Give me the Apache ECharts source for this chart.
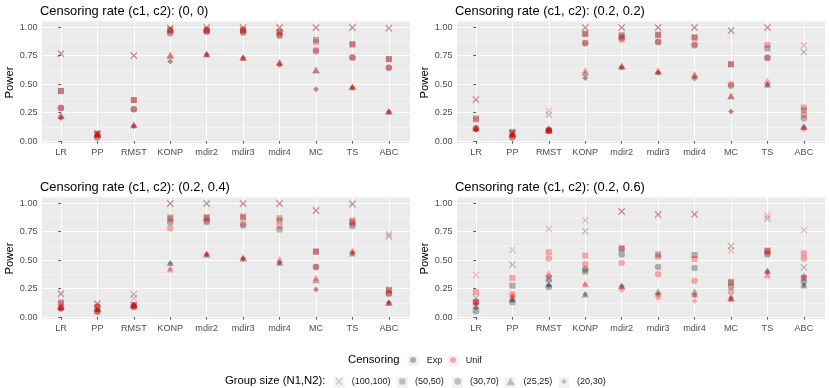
<!DOCTYPE html>
<html>
<head>
<meta charset="utf-8">
<script src="https://cdn.jsdelivr.net/npm/echarts@6/dist/echarts.min.js"></script>
<style>
html, body { margin: 0; background: #fff; }
#chart { width: 830px; height: 388px; }
</style>
</head>
<body>
<div id="chart"></div>
<script>
const methods = ['LR', 'PP', 'RMST', 'KONP', 'mdir2', 'mdir3', 'mdir4', 'MC', 'TS', 'ABC'];
const groupSizes = ['(100,100)', '(50,50)', '(30,70)', '(25,25)', '(20,30)'];
const censorings = ['Exp', 'Unif'];
const panelTitles = [
    'Censoring rate (c1, c2): (0, 0)',
    'Censoring rate (c1, c2): (0.2, 0.2)',
    'Censoring rate (c1, c2): (0.2, 0.4)',
    'Censoring rate (c1, c2): (0.2, 0.6)'
];
const yTicks = [0, 0.25, 0.5, 0.75, 1];
const yMinorTicks = [0.125, 0.375, 0.625, 0.875];

// power per method (rows), columns follow groupSizes
const exp00 = [
    [0.77, 0.44, 0.29, 0.22, 0.20],
    [0.06, 0.06, 0.03, 0.06, 0.05],
    [0.75, 0.36, 0.28, 0.14, 0.13],
    [0.99, 0.975, 0.945, 0.75, 0.70],
    [0.995, 0.975, 0.96, 0.765, 0.76],
    [0.995, 0.975, 0.955, 0.735, 0.73],
    [0.995, 0.96, 0.925, 0.69, 0.67],
    [0.995, 0.89, 0.79, 0.625, 0.46],
    [0.995, 0.85, 0.735, 0.48, 0.47],
    [0.99, 0.72, 0.645, 0.26, 0.255]
];
const unif00 = [
    [0.765, 0.44, 0.29, 0.23, 0.205],
    [0.07, 0.065, 0.04, 0.07, 0.05],
    [0.755, 0.36, 0.28, 0.145, 0.13],
    [0.995, 0.98, 0.96, 0.76, 0.70],
    [1.0, 0.98, 0.965, 0.765, 0.76],
    [1.0, 0.98, 0.96, 0.735, 0.73],
    [1.0, 0.955, 0.935, 0.695, 0.665],
    [1.0, 0.87, 0.80, 0.625, 0.45],
    [1.0, 0.85, 0.735, 0.475, 0.465],
    [0.995, 0.72, 0.645, 0.265, 0.255]
];
const exp22 = [
    [0.36, 0.19, 0.11, 0.115, 0.095],
    [0.07, 0.075, 0.03, 0.06, 0.05],
    [0.23, 0.095, 0.09, 0.115, 0.09],
    [0.995, 0.94, 0.86, 0.60, 0.555],
    [0.995, 0.93, 0.905, 0.655, 0.645],
    [0.995, 0.935, 0.87, 0.61, 0.60],
    [0.995, 0.91, 0.84, 0.575, 0.545],
    [0.97, 0.675, 0.485, 0.395, 0.26],
    [0.995, 0.815, 0.73, 0.50, 0.49],
    [0.78, 0.27, 0.20, 0.13, 0.12]
];
const unif22 = [
    [0.37, 0.20, 0.11, 0.12, 0.10],
    [0.065, 0.08, 0.04, 0.065, 0.05],
    [0.265, 0.09, 0.09, 0.10, 0.09],
    [1.0, 0.945, 0.865, 0.62, 0.555],
    [1.0, 0.92, 0.89, 0.665, 0.65],
    [1.0, 0.93, 0.87, 0.62, 0.60],
    [1.0, 0.91, 0.85, 0.59, 0.56],
    [0.975, 0.675, 0.50, 0.395, 0.26],
    [1.0, 0.845, 0.735, 0.53, 0.50],
    [0.84, 0.295, 0.23, 0.125, 0.10]
];
const exp24 = [
    [0.20, 0.12, 0.075, 0.09, 0.07],
    [0.115, 0.09, 0.045, 0.07, 0.06],
    [0.20, 0.105, 0.09, 0.105, 0.10],
    [0.995, 0.875, 0.83, 0.478, 0.47],
    [0.995, 0.87, 0.835, 0.55, 0.55],
    [0.995, 0.875, 0.805, 0.515, 0.515],
    [0.995, 0.85, 0.77, 0.48, 0.475],
    [0.935, 0.575, 0.44, 0.325, 0.245],
    [0.99, 0.835, 0.80, 0.56, 0.56],
    [0.71, 0.235, 0.205, 0.13, 0.125]
];
const unif24 = [
    [0.21, 0.13, 0.08, 0.09, 0.075],
    [0.12, 0.09, 0.05, 0.075, 0.065],
    [0.165, 0.105, 0.085, 0.11, 0.095],
    [1.0, 0.86, 0.78, 0.42, 0.42],
    [1.0, 0.88, 0.85, 0.56, 0.55],
    [1.0, 0.885, 0.82, 0.525, 0.51],
    [1.0, 0.87, 0.80, 0.51, 0.48],
    [0.94, 0.575, 0.44, 0.345, 0.24],
    [1.0, 0.85, 0.82, 0.585, 0.57],
    [0.73, 0.24, 0.21, 0.125, 0.125]
];
const exp26 = [
    [0.17, 0.13, 0.05, 0.10, 0.08],
    [0.46, 0.275, 0.13, 0.16, 0.15],
    [0.34, 0.33, 0.265, 0.29, 0.28],
    [0.755, 0.40, 0.42, 0.20, 0.20],
    [0.93, 0.60, 0.55, 0.275, 0.27],
    [0.905, 0.55, 0.44, 0.225, 0.20],
    [0.905, 0.545, 0.43, 0.225, 0.19],
    [0.625, 0.31, 0.265, 0.17, 0.17],
    [0.865, 0.58, 0.55, 0.41, 0.40],
    [0.435, 0.345, 0.31, 0.28, 0.28]
];
const unif26 = [
    [0.37, 0.22, 0.13, 0.14, 0.12],
    [0.59, 0.345, 0.20, 0.19, 0.18],
    [0.775, 0.57, 0.515, 0.385, 0.36],
    [0.85, 0.54, 0.465, 0.29, 0.285],
    [0.925, 0.605, 0.475, 0.27, 0.235],
    [0.895, 0.53, 0.375, 0.205, 0.165],
    [0.90, 0.51, 0.32, 0.20, 0.14],
    [0.585, 0.30, 0.22, 0.16, 0.155],
    [0.89, 0.585, 0.565, 0.37, 0.385],
    [0.765, 0.56, 0.515, 0.37, 0.35]
];
const panelData = [[exp00, unif00], [exp22, unif22], [exp24, unif24], [exp26, unif26]];

const font = 'Liberation Sans';
const censColors = ['rgba(40,40,40,0.42)', 'rgba(255,0,0,0.38)'];
const keyGray = 'rgba(40,40,40,0.33)';
const crossPath = 'path://M0,0.1L0.1,0L0.5,0.4L0.9,0L1,0.1L0.6,0.5L1,0.9L0.9,1L0.5,0.6L0.1,1L0,0.9L0.4,0.5Z';
const shapes = [
    { symbol: crossPath, size: 7 },
    { symbol: 'path://M0,0H1V1H0Z', size: 6 },
    { symbol: 'circle', size: 6.5 },
    { symbol: 'path://M0.5,0L1,0.866L0,0.866Z', size: 7.5 },
    { symbol: 'path://M0.5,0L1,0.5L0.5,1L0,0.5Z', size: 5.5 }
];

// panel layout
const panelLeft = [42, 457, 42, 457];
const panelTop = [21.6, 21.6, 197.6, 197.6];
const panelW = 368, panelH = 121.7;

const chart = echarts.init(document.getElementById('chart'));

const grid = [], xAxis = [], yAxis = [], series = [], title = [];
const xIdx = methods.map((m, i) => i);

for (let p = 0; p < 4; p++) {
    grid.push({
        left: panelLeft[p], top: panelTop[p], width: panelW, height: panelH,
        show: true, backgroundColor: '#ebebeb', borderWidth: 0
    });
    title.push({
        text: panelTitles[p], left: panelLeft[p] - 2, top: panelTop[p] - 16.3, padding: 0,
        textStyle: { fontFamily: font, fontSize: 12.9, fontWeight: 'normal', color: '#000' }
    });
    xAxis.push({
        type: 'value', gridIndex: p, min: -0.52, max: 9.58,
        axisLine: { show: false },
        axisTick: { customValues: xIdx, length: 2.7, lineStyle: { color: '#333', width: 0.8 } },
        axisLabel: {
            customValues: xIdx, margin: 5, color: '#4d4d4d', fontSize: 9.1, fontFamily: font,
            formatter: v => methods[Math.round(v)]
        },
        splitLine: { show: true, lineStyle: { color: '#fff', width: 1.1 } }
    });
    yAxis.push({
        type: 'value', gridIndex: p, min: -0.02, max: 1.05,
        name: 'Power', nameLocation: 'middle', nameGap: 27,
        nameTextStyle: { fontFamily: font, fontSize: 11.3, color: '#000' },
        axisLine: { show: false },
        axisTick: { customValues: yTicks, length: 2.7, lineStyle: { color: '#333', width: 0.8 } },
        axisLabel: {
            customValues: yTicks, margin: 4.5, color: '#4d4d4d', fontSize: 9.1, fontFamily: font,
            formatter: v => v.toFixed(2)
        },
        splitLine: { show: true, lineStyle: { color: '#fff', width: 1.1 } }
    });
}
// minor horizontal grid lines
for (let p = 0; p < 4; p++) {
    yAxis.push({
        type: 'value', gridIndex: p, min: -0.02, max: 1.05, position: 'left',
        axisLine: { show: false },
        axisTick: { show: false, customValues: yMinorTicks },
        axisLabel: { show: false, customValues: yMinorTicks },
        splitLine: { show: true, lineStyle: { color: 'rgba(255,255,255,0.6)', width: 0.7 } }
    });
}

for (let p = 0; p < 4; p++) {
    for (let c = 0; c < 2; c++) {
        const rows = panelData[p][c];
        for (let k = 0; k < groupSizes.length; k++) {
            series.push({
                type: 'scatter', name: censorings[c] + ' ' + groupSizes[k],
                xAxisIndex: p, yAxisIndex: p, silent: true,
                symbol: shapes[k].symbol, symbolSize: shapes[k].size, symbolKeepAspect: true,
                itemStyle: { color: censColors[c] },
                data: rows.map((r, m) => [m, r[k]])
            });
        }
    }
}
// legend-only entries
censorings.concat(groupSizes).forEach(n => {
    series.push({ type: 'scatter', name: n, xAxisIndex: 0, yAxisIndex: 0, data: [] });
});

// legends: key centre and text start for each entry
const legendText = { fontFamily: font, fontSize: 9.1, color: '#1a1a1a' };
const legend = [];
const keyCenters = [];
const censKeyX = [413, 453], censTextX = [426.7, 465.7];
const rowY1 = 361, rowY2 = 382.5;
censorings.forEach((n, c) => {
    const s = 6;
    legend.push({
        data: [{ name: n, icon: 'circle', itemStyle: { color: censColors[c] } }],
        left: censKeyX[c] - s / 2, top: rowY1 - 5.5, padding: 0,
        itemWidth: 2 * (censTextX[c] - 5 - censKeyX[c]), itemHeight: s,
        selectedMode: false, textStyle: legendText
    });
    keyCenters.push([censKeyX[c], rowY1]);
});
const sizeKeyX = [339, 402.3, 457.7, 510, 564];
const sizeTextX = [351.7, 415, 470, 523, 577];
groupSizes.forEach((n, k) => {
    const s = shapes[k].size;
    legend.push({
        data: [{ name: n, icon: shapes[k].symbol, itemStyle: { color: keyGray } }],
        left: sizeKeyX[k] - s / 2, top: rowY2 - 5.5, padding: 0, symbolKeepAspect: true,
        itemWidth: 2 * (sizeTextX[k] - 5 - sizeKeyX[k]), itemHeight: s,
        selectedMode: false, textStyle: legendText
    });
    keyCenters.push([sizeKeyX[k], rowY2]);
});

title.push({
    text: 'Censoring', left: 348, top: rowY1 - 6.8, padding: 0,
    textStyle: { fontFamily: font, fontSize: 11.3, fontWeight: 'normal', color: '#000' }
});
title.push({
    text: 'Group size (N1,N2):', left: 225, top: rowY2 - 6.8, padding: 0,
    textStyle: { fontFamily: font, fontSize: 11.3, fontWeight: 'normal', color: '#000' }
});

const graphic = keyCenters.map(([x, y]) => ({
    type: 'rect', z: 0, silent: true,
    shape: { x: x - 5.5, y: y - 5.5, width: 11, height: 11 },
    style: { fill: '#f2f2f2' }
}));

chart.setOption({
    animation: false,
    textStyle: { fontFamily: font },
    title: title,
    grid: grid,
    xAxis: xAxis,
    yAxis: yAxis,
    legend: legend,
    graphic: graphic,
    series: series
});
</script>
</body>
</html>
